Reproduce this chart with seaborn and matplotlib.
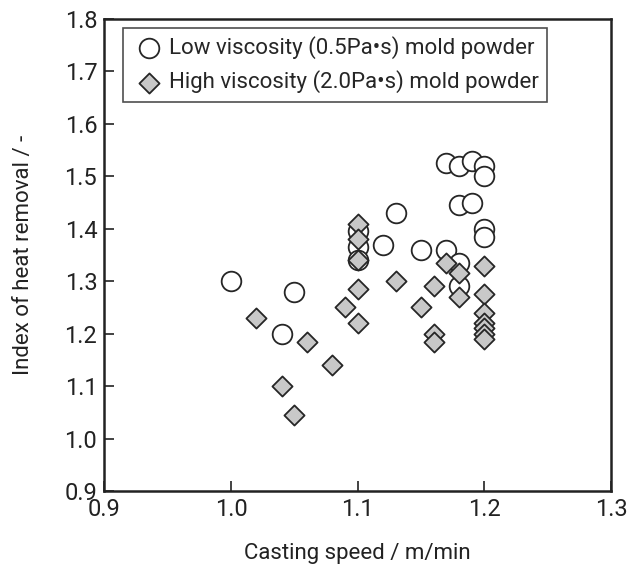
import matplotlib
matplotlib.use("Agg")
import matplotlib.pyplot as plt
import seaborn as sns
import pandas as pd

low_label = "Low viscosity (0.5Pa\u2022s) mold powder"
high_label = "High viscosity (2.0Pa\u2022s) mold powder"

low_x = [1.00, 1.04, 1.05, 1.10, 1.10, 1.10, 1.12, 1.13, 1.15, 1.17, 1.17,
         1.18, 1.18, 1.18, 1.18, 1.19, 1.19, 1.20, 1.20, 1.20, 1.20]
low_y = [1.30, 1.20, 1.28, 1.395, 1.365, 1.34, 1.37, 1.43, 1.36, 1.525, 1.36,
         1.52, 1.445, 1.335, 1.29, 1.45, 1.53, 1.52, 1.50, 1.40, 1.385]

high_x = [1.02, 1.04, 1.05, 1.06, 1.08, 1.09, 1.10, 1.10, 1.10, 1.10, 1.10,
          1.13, 1.15, 1.16, 1.16, 1.16, 1.17, 1.18, 1.18,
          1.20, 1.20, 1.20, 1.20, 1.20, 1.20, 1.20]
high_y = [1.23, 1.10, 1.045, 1.185, 1.14, 1.25, 1.41, 1.38, 1.34, 1.285, 1.22,
          1.30, 1.25, 1.29, 1.20, 1.185, 1.335, 1.315, 1.27,
          1.33, 1.275, 1.24, 1.22, 1.21, 1.20, 1.19]

x_ticks = [0.9, 1.0, 1.1, 1.2, 1.3]
y_ticks = [0.9, 1.0, 1.1, 1.2, 1.3, 1.4, 1.5, 1.6, 1.7, 1.8]

low_df = pd.DataFrame({"speed": low_x, "index": low_y})
high_df = pd.DataFrame({"speed": high_x, "index": high_y})

sns.set_style("ticks")
plt.rcParams["font.family"] = ["Roboto", "DejaVu Sans"]

fig = plt.figure(figsize=(6.28, 5.64), dpi=100)
ax = fig.add_axes([0.166, 0.1294, 0.807, 0.8369])

edge = "#262626"
sns.scatterplot(data=low_df, x="speed", y="index", marker="o", s=200,
                color="white", edgecolor=edge, linewidth=1.3,
                label=low_label, ax=ax, zorder=3)
sns.scatterplot(data=high_df, x="speed", y="index", marker="D", s=105,
                color="#c8c8c8", edgecolor=edge, linewidth=1.3,
                label=high_label, ax=ax, zorder=4)

ax.set_xlim(0.9, 1.3)
ax.set_ylim(0.9, 1.8)
ax.set_xticks(x_ticks)
ax.set_yticks(y_ticks)
ax.set_xticklabels([f"{v:.1f}" for v in x_ticks])
ax.set_yticklabels([f"{v:.1f}" for v in y_ticks])
ax.tick_params(direction="in", length=7, width=1.2, labelsize=17,
               colors="#222222", pad=5)
for sp in ax.spines.values():
    sp.set_linewidth(1.8)
    sp.set_color("#222222")
    sp.set_visible(True)

ax.set_xlabel("Casting speed / m/min", fontsize=16, color="#222222", labelpad=16)
ax.set_ylabel("Index of heat removal / -", fontsize=16, color="#222222", labelpad=22)

leg = ax.legend(loc="upper left", bbox_to_anchor=(0.037, 0.982), fontsize=16,
                frameon=True, fancybox=False, edgecolor="#222222",
                borderpad=0.4, handletextpad=0.15, labelspacing=0.5,
                handlelength=1.5, borderaxespad=0)
leg.get_frame().set_linewidth(1.2)

fig.savefig("out.png", dpi=100)
